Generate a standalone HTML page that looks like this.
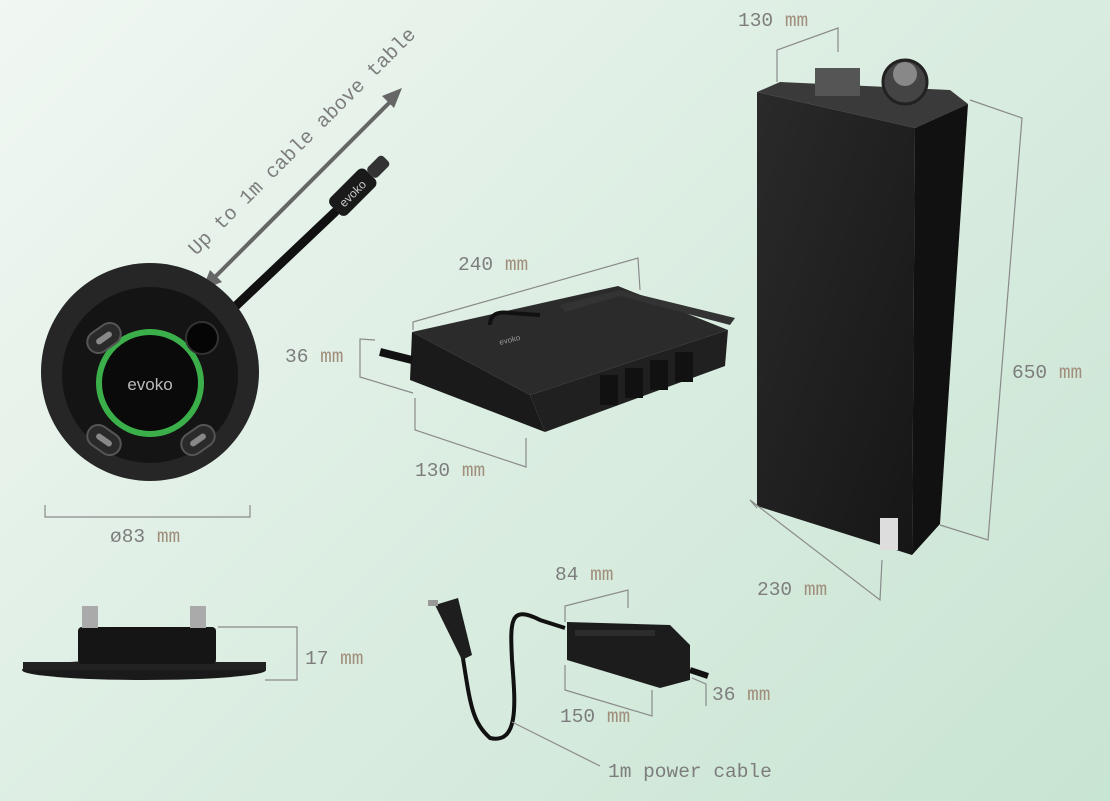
<!DOCTYPE html>
<html><head><meta charset="utf-8"><style>
html,body{margin:0;padding:0;width:1110px;height:801px;overflow:hidden}
body{background:linear-gradient(135deg,#f1f7f3 0%,#ddeee3 45%,#c8e4d2 100%)}
svg{display:block}
text{font-family:"Liberation Mono",monospace;font-size:19.5px;fill:#7d7d7d}
.mm{fill:#a08f7c}
.d{fill:none;stroke:#8a8a8a;stroke-width:1.2}
</style></head><body>
<svg width="1110" height="801" viewBox="0 0 1110 801">
<defs>
<linearGradient id="bx" x1="0" y1="0" x2="1" y2="1"><stop offset="0" stop-color="#2a2a2a"/><stop offset="1" stop-color="#161616"/></linearGradient>
</defs>

<!-- arrow -->
<line x1="212" y1="280" x2="392" y2="100" stroke="#666" stroke-width="4"/>
<polygon points="402,88 382,96 394,108" fill="#666"/>
<polygon points="202,290 210,270 222,282" fill="#666"/>
<text transform="translate(196,256) rotate(-45)" style="font-size:20px">Up to 1m cable above table</text>

<!-- cable -->
<line x1="200" y1="340" x2="335" y2="212" stroke="#111" stroke-width="9" stroke-linecap="round"/>
<g transform="translate(345,200) rotate(-45)">
<rect x="-14" y="-12" width="50" height="24" rx="6" fill="#1a1a1a"/>
<rect x="36" y="-7" width="22" height="14" rx="4" fill="#333"/>
<text x="-6" y="5" style="font-size:12px;fill:#ccc;font-family:'Liberation Sans',sans-serif">evoko</text>
</g>

<!-- puck top -->
<circle cx="150" cy="372" r="109" fill="#262626"/>
<circle cx="150" cy="375" r="88" fill="#141414"/>
<circle cx="150" cy="383" r="51" fill="#0a0a0a" stroke="#3bb04a" stroke-width="6"/>
<text x="150" y="390" text-anchor="middle" style="font-family:'Liberation Sans',sans-serif;font-size:17px;fill:#bbb">evoko</text>
<g fill="#2a2a2a" stroke="#555" stroke-width="2">
<g transform="translate(104,338) rotate(-35)"><rect x="-18" y="-11" width="36" height="22" rx="11"/><rect x="-9" y="-3" width="18" height="6" rx="3" fill="#888" stroke="none"/></g>
<g transform="translate(104,440) rotate(35)"><rect x="-18" y="-11" width="36" height="22" rx="11"/><rect x="-9" y="-3" width="18" height="6" rx="3" fill="#888" stroke="none"/></g>
<g transform="translate(198,440) rotate(-35)"><rect x="-18" y="-11" width="36" height="22" rx="11"/><rect x="-9" y="-3" width="18" height="6" rx="3" fill="#888" stroke="none"/></g>
</g>
<circle cx="202" cy="338" r="16" fill="#050505" stroke="#333" stroke-width="2"/>
<polyline class="d" points="45,505 45,517 250,517 250,505"/>
<text x="110" y="542">ø83 <tspan class="mm">mm</tspan></text>

<!-- puck side -->
<ellipse cx="144" cy="670" rx="122" ry="10" fill="#1a1a1a"/>
<rect x="23" y="662" width="243" height="8" fill="#222"/>
<rect x="78" y="627" width="138" height="37" rx="4" fill="#151515"/>
<rect x="82" y="606" width="16" height="22" fill="#aaa"/><rect x="190" y="606" width="16" height="22" fill="#aaa"/>
<polyline class="d" points="218,627 297,627 297,680 265,680"/>
<text x="305" y="664">17 <tspan class="mm">mm</tspan></text>

<!-- hub -->
<polygon points="412,332 618,286 728,330 530,395" fill="#2b2b2b"/>
<polygon points="412,332 530,395 545,432 410,380" fill="#1a1a1a"/>
<polygon points="530,395 728,330 725,366 545,432" fill="#202020"/>
<polygon points="560,305 620,290 735,318 730,325 620,296 565,312" fill="#333"/>
<path d="M490 325 q0 -15 20 -12 l30 2" stroke="#111" stroke-width="4" fill="none"/>
<line x1="380" y1="352" x2="412" y2="360" stroke="#111" stroke-width="8"/>
<text x="500" y="345" style="font-family:'Liberation Sans',sans-serif;font-size:8px;fill:#999" transform="rotate(-14 500 345)">evoko</text>
<g fill="#111"><rect x="600" y="375" width="18" height="30"/><rect x="625" y="368" width="18" height="30"/><rect x="650" y="360" width="18" height="30"/><rect x="675" y="352" width="18" height="30"/></g>
<polyline class="d" points="413,330 413,322 638,258 640,290"/>
<text x="458" y="270">240 <tspan class="mm">mm</tspan></text>
<polyline class="d" points="375,340 360,339 360,377 413,393"/>
<text x="285" y="362">36 <tspan class="mm">mm</tspan></text>
<polyline class="d" points="415,398 415,430 526,467 526,438"/>
<text x="415" y="476">130 <tspan class="mm">mm</tspan></text>

<!-- tall box -->
<polygon points="780,82 950,90 968,104 915,128 757,92" fill="#3a3a3a"/>
<polygon points="757,92 915,128 912,555 757,506" fill="url(#bx)"/>
<polygon points="915,128 968,104 940,524 912,555" fill="#111"/>
<rect x="815" y="68" width="45" height="28" fill="#555"/>
<circle cx="905" cy="82" r="22" fill="#444" stroke="#222" stroke-width="3"/>
<circle cx="905" cy="74" r="12" fill="#888"/>
<rect x="880" y="518" width="18" height="32" fill="#ddd"/>
<polyline class="d" points="777,82 777,50 838,28 838,52"/>
<text x="738" y="26">130 <tspan class="mm">mm</tspan></text>
<polyline class="d" points="970,100 1022,118 988,540 940,525"/>
<text x="1012" y="378">650 <tspan class="mm">mm</tspan></text>
<polyline class="d" points="757,508 750,500 880,600 882,560"/>
<text x="757" y="595">230 <tspan class="mm">mm</tspan></text>

<!-- power supply -->
<path d="M460 640 C470 700 470 720 490 738 C520 745 515 700 512 660 C510 620 510 605 540 620 L565 628" stroke="#111" stroke-width="4" fill="none"/>
<polygon points="435,605 458,598 472,655 462,660" fill="#1e1e1e"/>
<rect x="428" y="600" width="10" height="6" fill="#999"/>
<polygon points="567,622 670,625 690,645 690,680 660,688 567,660" fill="#1c1c1c"/>
<rect x="575" y="630" width="80" height="6" fill="#2c2c2c"/>
<line x1="690" y1="670" x2="708" y2="676" stroke="#111" stroke-width="6"/>
<polyline class="d" points="565,622 565,606 628,590 628,608"/>
<text x="555" y="580">84 <tspan class="mm">mm</tspan></text>
<polyline class="d" points="565,665 565,690 652,716 652,690"/>
<text x="560" y="722">150 <tspan class="mm">mm</tspan></text>
<polyline class="d" points="692,678 706,684 706,706"/>
<text x="712" y="700">36 <tspan class="mm">mm</tspan></text>
<line class="d" x1="512" y1="722" x2="600" y2="766"/>
<text x="608" y="777">1m power cable</text>
</svg>
</body></html>
